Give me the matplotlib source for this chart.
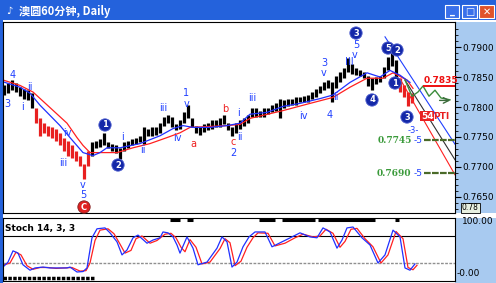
import matplotlib
matplotlib.use('Agg')
import matplotlib.pyplot as plt
from matplotlib.patches import Rectangle

plt.rcParams['font.family'] = ['DejaVu Sans']

# ---- price bars (high / low), one per bar ----
highs = [0.7836, 0.7840, 0.7845, 0.7840, 0.7833, 0.7830, 0.7828, 0.7823,
         0.7798, 0.7781, 0.7773, 0.7769, 0.7766, 0.7764, 0.7756, 0.7749, 0.7744, 0.7736, 0.7727, 0.7719, 0.7705, 0.7727,
         0.7741, 0.7744, 0.7747, 0.7756, 0.7741, 0.7739, 0.7736, 0.7731, 0.7741, 0.7744, 0.7747, 0.7749, 0.7752, 0.7766, 0.7764, 0.7766, 0.7767, 0.7774,
         0.7783, 0.7786, 0.7783, 0.7771, 0.7778, 0.7791, 0.7804, 0.7781, 0.7769, 0.7766,
         0.7771, 0.7774, 0.7778, 0.7779, 0.7781, 0.7786, 0.7774, 0.7767, 0.7773, 0.7778,
         0.7781, 0.7786, 0.7798, 0.7798, 0.7794, 0.7798, 0.7799, 0.7803, 0.7806, 0.7814,
         0.7811, 0.7813, 0.7814, 0.7816, 0.7816, 0.7818, 0.7820, 0.7825, 0.7830, 0.7835,
         0.7841, 0.7845, 0.7841, 0.7851, 0.7858, 0.7865, 0.7882, 0.7871, 0.7865, 0.7861,
         0.7858, 0.7851, 0.7848, 0.7850, 0.7851, 0.7866, 0.7883, 0.7892, 0.7878, 0.7848,
         0.7836, 0.7825, 0.7823]
lows = [0.7820, 0.7823, 0.7828, 0.7825, 0.7818, 0.7814, 0.7811, 0.7798,
        0.7774, 0.7752, 0.7756, 0.7752, 0.7749, 0.7744, 0.7736, 0.7727, 0.7719, 0.7715, 0.7710, 0.7702, 0.7680, 0.7702,
        0.7719, 0.7732, 0.7734, 0.7736, 0.7731, 0.7727, 0.7724, 0.7714, 0.7727, 0.7732, 0.7736, 0.7739, 0.7741, 0.7739, 0.7751, 0.7752, 0.7754, 0.7757,
        0.7769, 0.7773, 0.7767, 0.7761, 0.7764, 0.7773, 0.7781, 0.7767, 0.7756, 0.7754,
        0.7759, 0.7762, 0.7764, 0.7766, 0.7767, 0.7771, 0.7761, 0.7751, 0.7756, 0.7764,
        0.7769, 0.7773, 0.7783, 0.7784, 0.7783, 0.7784, 0.7788, 0.7791, 0.7794, 0.7781,
        0.7799, 0.7801, 0.7803, 0.7804, 0.7808, 0.7808, 0.7809, 0.7813, 0.7816, 0.7823,
        0.7828, 0.7831, 0.7808, 0.7831, 0.7841, 0.7848, 0.7858, 0.7855, 0.7853, 0.7851,
        0.7848, 0.7835, 0.7828, 0.7838, 0.7841, 0.7848, 0.7861, 0.7868, 0.7833, 0.7825,
        0.7816, 0.7801, 0.7806]
bars = list(range(len(highs)))

# ---- moving averages (bar position, price) ----
ma_fast_x = [-0.25, 4, 6.5, 9, 11.5, 14, 16.5, 19.75, 22.25, 24, 25.75, 29, 34, 39, 42.25, 44.75, 47.25,
             51.5, 55.75, 59, 61.5, 65.75, 69.75, 74, 79, 82.25, 86.5, 90.75, 94, 96.5, 99, 101.5]
ma_fast = [0.7842, 0.7833, 0.7823, 0.7803, 0.7786, 0.7769, 0.7749, 0.7724, 0.7719, 0.7724, 0.7732, 0.7732,
           0.7739, 0.7752, 0.7764, 0.7769, 0.7766, 0.7766, 0.7769, 0.7773, 0.7788, 0.7791, 0.7801, 0.7806,
           0.7814, 0.7820, 0.7841, 0.7857, 0.7850, 0.7861, 0.7853, 0.7841]
ma_slow_x = [-0.25, 4, 7.25, 11.5, 15.75, 18.25, 19.75, 21.5, 28.25, 32.25, 36.5, 40.75, 44, 46.5, 55.75,
             59, 61.5, 69.75, 76.5, 82.25, 86.5, 90.75, 94.75, 97.25, 100.75, 102.25]
ma_slow = [0.7845, 0.7836, 0.7825, 0.7799, 0.7773, 0.7749, 0.7736, 0.7724, 0.7724, 0.7732, 0.7739, 0.7749,
           0.7757, 0.7766, 0.7769, 0.7771, 0.7781, 0.7794, 0.7806, 0.7816, 0.7833, 0.7848, 0.7848, 0.7857,
           0.7845, 0.7831]

# ---- projection and channel lines ----
proj_x = [100.25, 102, 103.5, 104.75, 106.25, 107.75, 109.25, 111.5]
proj_y = [0.7845, 0.7818, 0.7825, 0.7835, 0.7818, 0.7828, 0.7815, 0.7812]
chan_blue = ([95.25, 112.75], [0.7917, 0.7738])
chan_black = ([100.25, 112.75], [0.7845, 0.7712])
chan_red = ([99, 112.75], [0.7847, 0.7687])
level_red = 0.7835
levels_green = [0.7745, 0.7690]

# ---- stochastic 14,3,3 ----
stoch_k_x = [-0.25, 1, 2.25, 3.5, 4.75, 6.5, 7.75, 9.75, 11.5, 13.5, 15.75, 16.5, 18.25, 19.75, 20.75, 22,
             23.25, 25.25, 26.5, 28.25, 29.5, 30.75, 32.25, 33.5, 35.75, 37.25, 39, 39.75, 41, 42.25, 43.25,
             44, 45.75, 47.25, 48.5, 50.75, 53.25, 54.5, 55.75, 57, 58.25, 59.75, 61.25, 62.75, 64, 65.25,
             67, 69.5, 72, 74, 76.5, 78.25, 79.75, 81.5, 83.25, 84.5, 85.75, 87.25, 89.5, 91.5, 93.5, 95.25,
             97.25, 99, 100.25, 101.5, 102.75]
stoch_k = [11, 22, 47, 42, 16, 4, 9, 11, 9, 9, 9, 11, 0, 1, 9, 76, 96, 98, 87, 67, 38, 49, 76, 82, 64,
           71, 76, 89, 87, 78, 60, 42, 78, 53, 16, 22, 53, 78, 67, 11, 22, 56, 78, 89, 89, 89, 56, 67, 78,
           87, 78, 76, 98, 89, 53, 71, 98, 100, 76, 60, 20, 38, 93, 78, 9, 4, 18]
stoch_d_x = [-0.25, 1.5, 3, 4.25, 5.75, 7.25, 9, 11, 13, 15, 17, 19, 20.5, 21.5, 22.75, 24, 26, 27.5, 29,
             30.25, 31.75, 33, 34.5, 36.5, 38.25, 40.25, 41.75, 43, 44.25, 45.25, 46.5, 48, 49.5, 51.5, 54,
             55.25, 56.5, 57.75, 59.25, 60.75, 62.25, 63.5, 66, 67.75, 70.25, 72.75, 74.75, 77.25, 79, 80.5,
             82.25, 84, 85.25, 86.75, 88.25, 90.25, 92.25, 94.25, 96, 98, 99.75, 101, 102.25, 103.25]
stoch_d = [15, 20, 44, 38, 14, 6, 10, 10, 8, 9, 10, 2, 3, 20, 70, 93, 96, 85, 62, 42, 48, 74, 80, 64, 70,
           84, 86, 76, 55, 45, 72, 55, 18, 22, 52, 74, 65, 14, 24, 55, 76, 87, 86, 58, 64, 76, 84, 78, 80,
           95, 86, 55, 68, 95, 97, 74, 56, 20, 38, 90, 74, 10, 5, 15]
signal_starts = [41.5, 45.75, 63.75, 69.5, 78.5, 97.75]
signal_ends = [44, 47.25, 67.75, 77.75, 92.75, 98.75]

# ---- wave labels (text, bar, price, colour) ----
wave_labels = [('4', 2.25, 0.78533, 'b'), ('3', 0.75, 0.7805, 'b'), ('i', 4.75, 0.7800, 'b'),
               ('ii', 6.5, 0.78333, 'b'), ('iv', 15.75, 0.77566, 'b'), ('iii', 14.75, 0.77066, 'b'),
               ('v', 19.75, 0.7670, 'b'), ('5', 19.75, 0.76533, 'b'), ('i', 29.75, 0.7750, 'b'),
               ('ii', 34.75, 0.77283, 'b'), ('iii', 39.75, 0.77983, 'b'), ('iv', 43.25, 0.77483, 'b'),
               ('1', 45.5, 0.78233, 'b'), ('v', 45.75, 0.7805, 'b'), ('2', 57.25, 0.77233, 'b'),
               ('i', 58.5, 0.7790, 'b'), ('ii', 59, 0.7750, 'b'), ('iii', 62, 0.7815, 'b'),
               ('iv', 74.75, 0.7785, 'b'), ('4', 81.5, 0.7787, 'b'), ('ii', 83, 0.78166, 'b'),
               ('3', 80, 0.78733, 'b'), ('v', 80, 0.78567, 'b'), ('III', 86.25, 0.7875, 'b'),
               ('5', 88, 0.79033, 'b'), ('v', 87.75, 0.78867, 'b'), ('-3-', 102.3, 0.77615, 'b'),
               ('a', 47.25, 0.77383, 'r'), ('b', 55.25, 0.77967, 'r'), ('c', 57.25, 0.77416, 'r')]
circle_labels = [('1', 25.25, 0.7770), ('2', 28.5, 0.77033), ('3', 88, 0.79233), ('4', 92, 0.78117),
                 ('5', 96, 0.78983), ('2', 98.25, 0.7895), ('1', 97.75, 0.7840), ('3', 100.75, 0.77833)]

W, H = 496, 283
fig = plt.figure(figsize=(W / 100, H / 100), dpi=100)
fig.patch.set_facecolor('white')


def fbox(x0, y0, x1, y1):
    return [x0 / W, 1 - y1 / H, (x1 - x0) / W, (y1 - y0) / H]


# window chrome
fig.add_artist(Rectangle((0, 1 - 20 / H), 1, 20 / H, transform=fig.transFigure,
                         fc='#2462dc', ec='none', zorder=-2))
fig.add_artist(Rectangle((0, 0), 3 / W, 1, transform=fig.transFigure, fc='#2462dc', ec='none', zorder=-2))
for (x0, y0, w, h) in [fbox(455, 22, 496, 213), fbox(455, 218, 496, 283)]:
    fig.add_artist(Rectangle((x0, y0), w, h, transform=fig.transFigure, fc='#a8caf0', ec='none', zorder=-1))
for x0, x1, c, s in [(445, 459, '#3a70ea', '_'), (462, 477, '#3a70ea', '□'), (479, 494, '#e0532b', '✕')]:
    b = fbox(x0, 5, x1, 18)
    fig.add_artist(Rectangle((b[0], b[1]), b[2], b[3], transform=fig.transFigure,
                             fc=c, ec='white', lw=0.8, zorder=3))
    fig.text((x0 + x1) / 2 / W, 1 - 11.5 / H, s, color='white', ha='center', va='center',
             fontsize=7, weight='bold', zorder=4)
fig.text(6 / W, 1 - 11 / H, '♪', color='white', fontsize=7, va='center', weight='bold')
fig.text(19 / W, 1 - 11 / H, '澳圆60分钟, Daily', color='white', fontsize=8, va='center',
         weight='bold', family=['Noto Sans CJK SC', 'DejaVu Sans'])

# ---- main price panel ----
ax = fig.add_axes(fbox(3, 22, 455, 213))
colors = ['#e82020' if (8 <= i <= 21 or i >= 99) else 'black' for i in bars]
ax.vlines(bars, lows, highs, colors=colors, lw=2.3)
ax.plot(ma_slow_x, ma_slow, color='#ff2020', lw=0.9)
ax.plot(ma_fast_x, ma_fast, color='#2030ff', lw=0.9)
ax.plot(*chan_blue, color='#2040ff', lw=0.8)
ax.plot(*chan_black, color='#303030', lw=0.8)
ax.plot(*chan_red, color='#ff2020', lw=0.8)
ax.plot(proj_x, proj_y, color='#3c8c3c', lw=1.0)
ax.annotate('', xy=(112.3, 0.7811), xytext=(108.2, 0.7811),
            arrowprops=dict(arrowstyle='->', color='#3c6c3c', lw=1.0))

ax.hlines(level_red, 104.75, 112.75, color='#ee1010', lw=1.4)
ax.text(104.9, level_red + 0.0002, '0.7835', color='#ee1010', fontsize=6.5, weight='bold', va='bottom')
for lv in levels_green:
    ax.hlines(lv, 105, 112.75, color='#4a6a28', lw=1.6, linestyles=(0, (3, 0.6)))
    ax.text(101.9, lv - 0.0001, '0.%d' % round(lv * 10000), color='#3a9a3a', fontsize=6.5, weight='bold',
            ha='right', va='center', family='DejaVu Serif')
    ax.text(102.4, lv - 0.0001, '-5', color='#2040ff', fontsize=6.5, va='center')

ax.text(104.2, 0.7785, '54', color='white', fontsize=6.5, weight='bold', va='center',
        bbox=dict(boxstyle='square,pad=0.1', fc='#e82020', ec='none'))
ax.text(107.4, 0.7785, 'PTI', color='#e82020', fontsize=6.5, weight='bold', va='center')

for t, x, y, c in wave_labels:
    ax.text(x, y, t, color='#2040ff' if c == 'b' else '#ee2020', fontsize=7 if t != '-3-' else 6,
            ha='center', va='center')
for t, x, y in circle_labels:
    ax.text(x, y, t, color='white', fontsize=6, weight='bold', ha='center', va='center',
            bbox=dict(boxstyle='circle,pad=0.2', fc='#1428a8', ec='#5060d0', lw=0.6))
ax.text(20, 0.76333, 'C', color='white', fontsize=6, weight='bold', ha='center', va='center',
        bbox=dict(boxstyle='circle,pad=0.2', fc='#e02020', ec='#802020', lw=0.6))

ax.set_xlim(-0.25, 112.75)
ax.set_ylim(0.76233, 0.79417)
ax.set_xticks([])
ax.yaxis.tick_right()
ax.set_yticks([0.765, 0.770, 0.775, 0.780, 0.785, 0.790])
ax.set_yticklabels(['0.7650', '0.7700', '0.7750', '0.7800', '0.7850', '0.7900'])
ax.set_yticks([0.763 + 0.001 * k for k in range(31)], minor=True)
ax.tick_params(axis='y', which='major', direction='out', length=4, pad=1, labelsize=6.5)
ax.tick_params(axis='y', which='minor', direction='out', length=2)
for sp in ax.spines.values():
    sp.set_linewidth(0.8)
fig.text(462 / W, 1 - 208 / H, '0.78', fontsize=5.5, va='center',
         bbox=dict(boxstyle='square,pad=0.1', fc='#e8f0e0', ec='black', lw=0.6))

# ---- stochastic panel ----
ax2 = fig.add_axes(fbox(3, 218, 455, 281))
ax2.axhline(80, color='black', lw=0.8)
ax2.axhline(20, color='#909090', lw=1.0, ls=(0, (2, 1)))
ax2.plot(stoch_d_x, stoch_d, color='#ff2020', lw=0.9)
ax2.plot(stoch_k_x, stoch_k, color='#2030ff', lw=0.9)
ax2.hlines([115] * len(signal_starts), signal_starts, signal_ends, color='black', lw=2.2)
ax2.hlines(-13, -0.25, 22.75, color='black', lw=2.5, linestyles=(0, (1, 0.4)))
ax2.text(0.004, 0.80, 'Stoch 14, 3, 3', transform=ax2.transAxes, fontsize=6.5, weight='bold')
ax2.set_xlim(-0.25, 112.75)
ax2.set_ylim(-20, 120)
ax2.set_xticks([])
ax2.set_yticks([])
for sp in ax2.spines.values():
    sp.set_linewidth(0.8)
fig.text(462 / W, 1 - 222 / H, '100.00', fontsize=6.5, va='center')
fig.text(457 / W, 1 - 274 / H, '-0.00', fontsize=6.5, va='center')

fig.savefig('out.png', dpi=100)
